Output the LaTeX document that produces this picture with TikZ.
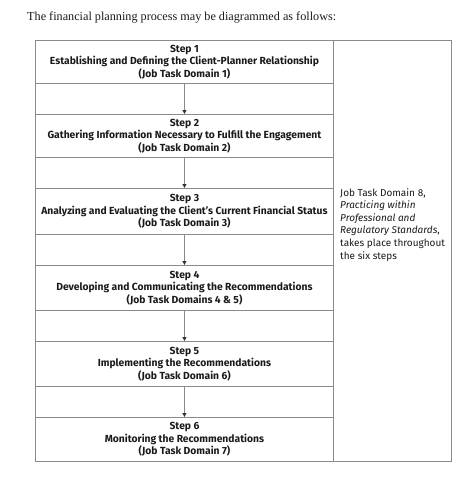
\documentclass[tikz,border=0pt]{standalone}
\usepackage{fontspec}
\setmainfont{Liberation Serif}
\newfontfamily\boxfont{Fira Sans}
\usetikzlibrary{arrows.meta}
\definecolor{linegray}{HTML}{8A8A8A}
\definecolor{txt}{HTML}{1A1A1A}
\begin{document}
\begin{tikzpicture}[x=1pt,y=-1pt,
  stepbox/.style={draw=linegray,line width=0.9pt,minimum width=298pt,inner sep=0pt,anchor=north west,align=center,
    font=\boxfont\bfseries\fontsize{10.3}{12.5}\selectfont,text=txt},
  flow/.style={draw=linegray,line width=0.9pt,-{Triangle[length=4pt,width=4pt,color=black!80]}},
  side/.style={anchor=north west,align=left,inner sep=0pt,font=\boxfont\fontsize{10}{12.6}\selectfont,text=txt}]
\useasboundingbox (0,0) rectangle (474,487);
\node[anchor=west,inner sep=0pt,font=\fontsize{12.2}{14}\selectfont,text=txt] (title) at (27,18) {The financial planning process may be diagrammed as follows:};
\node[draw=linegray,line width=0.9pt,anchor=north west,minimum width=416pt,minimum height=421pt,inner sep=0pt] (frame) at (35,40) {};
\node[stepbox,minimum height=43pt] (s1) at (35,40) {Step 1\\Establishing and Defining the Client-Planner Relationship\\(Job Task Domain 1)};
\node[stepbox,minimum height=43pt] (s2) at (35,114) {Step 2\\Gathering Information Necessary to Fulfill the Engagement\\(Job Task Domain 2)};
\node[stepbox,minimum height=46pt] (s3) at (35,188) {Step 3\\Analyzing and Evaluating the Client’s Current Financial Status\\(Job Task Domain 3)};
\node[stepbox,minimum height=45pt] (s4) at (35,265) {Step 4\\Developing and Communicating the Recommendations\\(Job Task Domains 4 \& 5)};
\node[stepbox,minimum height=45pt] (s5) at (35,341) {Step 5\\Implementing the Recommendations\\(Job Task Domain 6)};
\node[stepbox,minimum height=44pt] (s6) at (35,417) {Step 6\\Monitoring the Recommendations\\(Job Task Domain 7)};
\draw[draw=linegray,line width=0.9pt] (s1.south west) -- (s6.north west);
\draw[draw=linegray,line width=0.9pt] (frame.north west -| s1.north east) -- (frame.south west -| s1.north east);
\draw[flow] (s1.south) -- (s2.north);
\draw[flow] (s2.south) -- (s3.north);
\draw[flow] (s3.south) -- (s4.north);
\draw[flow] (s4.south) -- (s5.north);
\draw[flow] (s5.south) -- (s6.north);
\node[side] (d8) at (340,188) {Job Task Domain 8,\\\textit{Practicing within}\\\textit{Professional and}\\\textit{Regulatory Standards},\\takes place throughout\\the six steps};
\end{tikzpicture}
\end{document}
